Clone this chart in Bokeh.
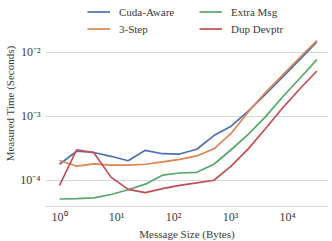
from bokeh.plotting import figure
from bokeh.models import Legend, LegendItem, Range1d, CustomJSTickFormatter
from bokeh.embed import file_html
from bokeh.resources import INLINE

sizes = [1, 2, 4, 8, 16, 32, 64, 128, 256, 512, 1024, 2048, 4096, 8192, 16384, 32768]
cuda_aware = [1.78e-4, 2.84e-4, 2.72e-4, 2.37e-4, 2.02e-4, 2.94e-4, 2.6e-4, 2.57e-4,
              3.05e-4, 5.0e-4, 7.0e-4, 1.2e-3, 2.2e-3, 4.1e-3, 7.7e-3, 1.46e-2]
three_step = [2.04e-4, 1.66e-4, 1.8e-4, 1.73e-4, 1.73e-4, 1.78e-4, 1.94e-4, 2.12e-4,
              2.4e-4, 3.1e-4, 5.4e-4, 1.17e-3, 2.35e-3, 4.4e-3, 8.3e-3, 1.52e-2]
extra_msg = [5.1e-5, 5.15e-5, 5.3e-5, 6.0e-5, 7.1e-5, 8.7e-5, 1.2e-4, 1.3e-4,
             1.33e-4, 1.78e-4, 3.0e-4, 5.2e-4, 9.8e-4, 2.0e-3, 3.9e-3, 7.7e-3]
dup_devptr = [8.3e-5, 3.0e-4, 2.7e-4, 1.12e-4, 7.2e-5, 6.4e-5, 7.4e-5, 8.3e-5,
              9.1e-5, 1.0e-4, 1.66e-4, 3.1e-4, 6.4e-4, 1.35e-3, 2.67e-3, 5.1e-3]

series_names = ["Cuda-Aware", "3-Step", "Extra Msg", "Dup Devptr"]
series = [cuda_aware, three_step, extra_msg, dup_devptr]
colors = ["#4C72B0", "#DD8452", "#55A868", "#C44E52"]

FONT = "Liberation Serif"
TXT = "#3a3a3a"

p = figure(frame_width=283, frame_height=206, x_axis_type="log", y_axis_type="log",
           output_backend="svg", toolbar_location=None,
           x_range=Range1d(10 ** -0.246, 10 ** 4.72),
           y_range=Range1d(10 ** -4.41, 10 ** -1.19),
           min_border_left=45, min_border_right=0, min_border_top=0, min_border_bottom=32)
p.outline_line_color = None
p.background_fill_color = "white"

renderers = []
for name, ys, c in zip(series_names, series, colors):
    r = p.line(sizes, ys, line_color=c, line_width=1.7)
    renderers.append(r)

p.xgrid.grid_line_color = None
p.ygrid.grid_line_color = "#d9d9d9"
p.ygrid.grid_line_width = 1

sup_fmt = CustomJSTickFormatter(code="""
const sup = {'0':'\u2070','1':'\u00b9','2':'\u00b2','3':'\u00b3','4':'\u2074','5':'\u2075',
             '6':'\u2076','7':'\u2077','8':'\u2078','9':'\u2079','-':'\u207b'};
const e = Math.round(Math.log10(tick));
return '10' + String(e).split('').map(c => sup[c]).join('');
""")

for ax in (p.xaxis[0], p.yaxis[0]):
    ax.formatter = sup_fmt
    ax.major_tick_line_color = None
    ax.minor_tick_line_color = None
    ax.major_tick_out = 0
    ax.major_tick_in = 0
    ax.minor_tick_out = 0
    ax.minor_tick_in = 0
    ax.major_label_text_font = FONT
    ax.major_label_text_font_size = "12px"
    ax.major_label_text_color = TXT
    ax.axis_label_text_font = FONT
    ax.axis_label_text_font_size = "11px"
    ax.axis_label_text_font_style = "normal"
    ax.axis_label_text_color = TXT

p.xaxis.major_label_standoff = 3
p.xaxis.axis_label_standoff = 1
p.yaxis.major_label_standoff = 5
p.yaxis.axis_label_standoff = 1
p.xaxis.axis_line_color = "#d9d9d9"
p.yaxis.axis_line_color = None
p.xaxis.axis_label = "Message Size (Bytes)"
p.yaxis.axis_label = "Measured Time (Seconds)"

items = [LegendItem(label=n, renderers=[r]) for n, r in zip(series_names, renderers)]
legend = Legend(items=items, ncols=2, location=(42, 169),
                border_line_color=None, background_fill_alpha=0,
                padding=0, spacing=0, margin=0,
                glyph_width=23, glyph_height=17, label_height=17, label_width=80,
                label_standoff=9, label_text_font=FONT, label_text_font_size="11px",
                label_text_color=TXT)
p.add_layout(legend, "center")

open("out.html", "w").write(file_html(p, INLINE))
